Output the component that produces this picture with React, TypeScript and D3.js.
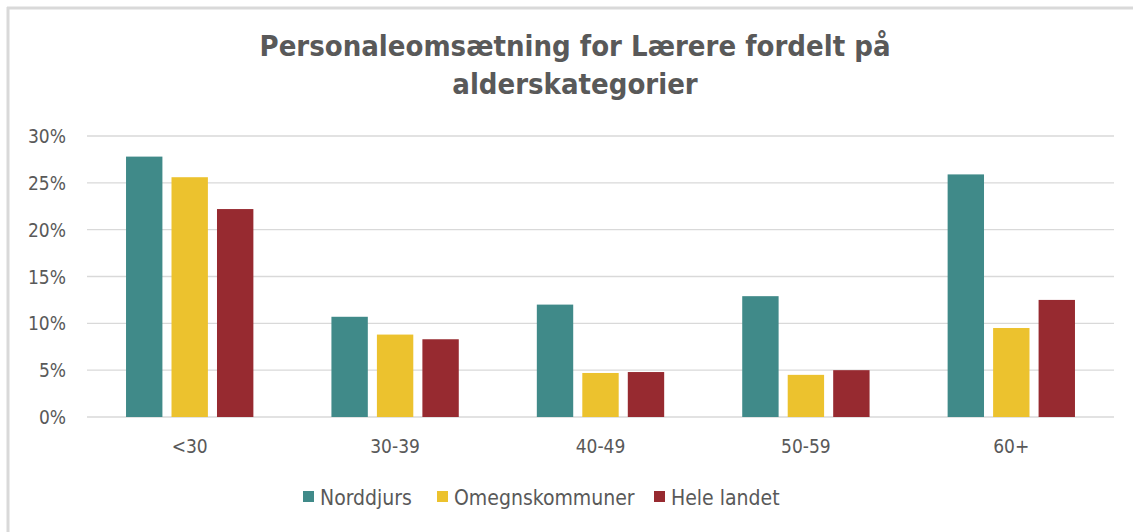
import React from 'react';
import * as d3 from 'd3';

const CATEGORIES = ['<30', '30-39', '40-49', '50-59', '60+'];
const SERIES = ['Norddjurs', 'Omegnskommuner', 'Hele landet'];
const COLORS = ['#408a89', '#ecc22e', '#972a30'];
const NORDDJURS = [27.8, 10.7, 12.0, 12.9, 25.9];
const OMEGN = [25.6, 8.8, 4.7, 4.5, 9.5];
const HELE_LANDET = [22.2, 8.3, 4.8, 5.0, 12.5];
const Y_TICKS = [0, 5, 10, 15, 20, 25, 30];
const TITLE = ['Personaleomsætning for Lærere fordelt på', 'alderskategorier'];

const W = 1133;
const H = 532;
const margin = { top: 136, right: 19, bottom: 115, left: 87 };
const FONT = '"DejaVu Sans Condensed", "DejaVu Sans", sans-serif';
const TEXT = '#595959';

export default function App() {
  const values = [NORDDJURS, OMEGN, HELE_LANDET];

  const x0 = d3.scaleBand<string>()
    .domain(CATEGORIES)
    .range([margin.left, W - margin.right])
    .paddingInner(0.38)
    .paddingOuter(0.19);

  const x1 = d3.scaleBand<string>()
    .domain(SERIES)
    .range([0, x0.bandwidth()])
    .paddingInner(0.2);

  const y = d3.scaleLinear()
    .domain([0, 30])
    .range([H - margin.bottom, margin.top]);

  // legend layout
  const legendX = [303, 437, 654];

  return (
    <div style={{ position: 'absolute', left: 0, top: 0 }}>
      <svg width={W} height={H} style={{ display: 'block', background: '#fff' }}>
        {/* frame */}
        <line x1={7} x2={W} y1={8} y2={8} stroke="#d9d9d9" strokeWidth={3} />
        <line x1={8} x2={8} y1={7} y2={H} stroke="#d9d9d9" strokeWidth={3} />

        {/* title */}
        {TITLE.map((t, i) => (
          <text key={t} x={575} y={56 + i * 38} textAnchor="middle"
            fontFamily={FONT} fontWeight="bold" fontSize={29} fill={TEXT}>
            {t}
          </text>
        ))}

        {/* gridlines + y labels */}
        {Y_TICKS.map(t => (
          <g key={t}>
            <line x1={margin.left} x2={W - margin.right} y1={y(t)} y2={y(t)}
              stroke="#d9d9d9" strokeWidth={1.3} />
            <text x={66} y={y(t) + 7} textAnchor="end" fontFamily={FONT}
              fontSize={19} fill={TEXT}>{t}%</text>
          </g>
        ))}

        {/* bars */}
        {CATEGORIES.map((c, ci) => (
          <g key={c} transform={`translate(${x0(c)},0)`}>
            {SERIES.map((s, si) => (
              <rect key={s} x={x1(s)} y={y(values[si][ci])}
                width={x1.bandwidth()} height={y(0) - y(values[si][ci])}
                fill={COLORS[si]} />
            ))}
          </g>
        ))}

        {/* x labels */}
        {CATEGORIES.map(c => (
          <text key={c} x={(x0(c) ?? 0) + x0.bandwidth() / 2} y={453}
            textAnchor="middle" fontFamily={FONT} fontSize={19} fill={TEXT}>{c}</text>
        ))}

        {/* legend */}
        {SERIES.map((s, i) => (
          <g key={s} transform={`translate(${legendX[i]},0)`}>
            <rect x={0} y={491} width={11} height={11} fill={COLORS[i]} />
            <text x={17} y={505} fontFamily={FONT} fontSize={21} fill={TEXT}>{s}</text>
          </g>
        ))}
      </svg>
    </div>
  );
}
